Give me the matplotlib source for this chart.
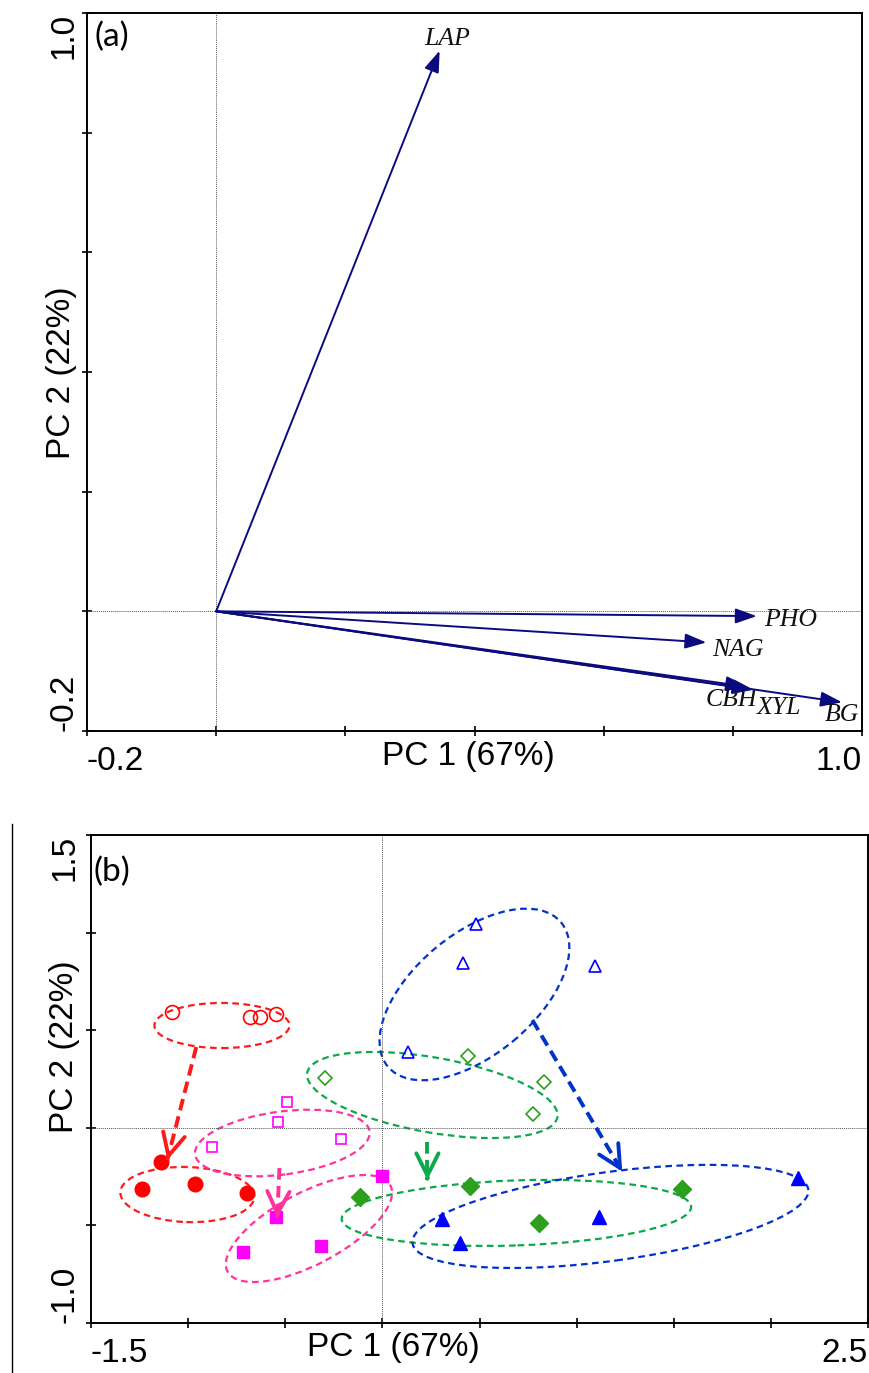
import matplotlib
matplotlib.use("Agg")
import matplotlib.pyplot as plt
from matplotlib.patches import Ellipse
from matplotlib.lines import Line2D

plt.rcParams['font.family'] = ['Liberation Sans', 'DejaVu Sans']
plt.rcParams['axes.unicode_minus'] = False

# ---- panel (a): loading vectors ----
enzymes = ["LAP", "PHO", "NAG", "CBH", "XYL", "BG"]
load_pc1 = [0.346, 0.837, 0.759, 0.822, 0.832, 0.969]
load_pc2 = [0.937, -0.008, -0.052, -0.126, -0.131, -0.152]
label_x = [0.358, 0.889, 0.808, 0.797, 0.872, 0.969]
label_y = [0.957, -0.015, -0.065, -0.149, -0.161, -0.174]

# ---- panel (b): sample scores ----
red_open_x = [-1.081, -0.680, -0.628, -0.546]
red_open_y = [0.593, 0.568, 0.568, 0.583]
red_fill_x = [-1.138, -1.236, -0.963, -0.695]
red_fill_y = [-0.175, -0.313, -0.288, -0.334]
mag_open_x = [-0.489, -0.535, -0.875, -0.211]
mag_open_y = [0.132, 0.030, -0.098, -0.057]
mag_fill_x = [0.0, -0.546, -0.716, -0.314]
mag_fill_y = [-0.247, -0.457, -0.636, -0.605]
grn_open_x = [-0.293, 0.443, 0.834, 0.777]
grn_open_y = [0.255, 0.368, 0.235, 0.071]
grn_fill_x = [-0.113, 0.451, 1.541, 0.807]
grn_fill_y = [-0.353, -0.298, -0.315, -0.489]
blu_open_x = [0.484, 0.414, 1.095, 0.134]
blu_open_y = [1.044, 0.844, 0.829, 0.388]
blu_fill_x = [0.309, 0.402, 1.116, 2.140]
blu_fill_y = [-0.467, -0.590, -0.457, -0.257]

# group ellipses: centre x, centre y, width, height, angle
ell_cx = [-0.826, -1.004, -0.515, -0.378, 0.257, 0.690, 0.474, 1.174]
ell_cy = [0.524, -0.342, -0.078, -0.516, 0.168, -0.436, 0.683, -0.454]
ell_w = [0.695, 0.690, 0.906, 0.947, 1.308, 1.800, 1.158, 2.056]
ell_h = [0.231, 0.282, 0.323, 0.369, 0.384, 0.333, 0.622, 0.455]
ell_ang = [0, -2, 7.5, 27.7, -10, 2, 39.5, 7.7]
ell_col = ['#FF1A1A', '#FF1A1A', '#FF3399', '#FF3399',
           '#0DA84A', '#0DA84A', '#0033CC', '#0033CC']

# shift arrows (start -> end)
arr_x0 = [-0.958, -0.530, 0.232, 0.772]
arr_y0 = [0.414, -0.206, -0.073, 0.552]
arr_x1 = [-1.107, -0.541, 0.232, 1.235]
arr_y1 = [-0.165, -0.462, -0.267, -0.225]
arr_col = ['#FF1A1A', '#FF3399', '#0DA84A', '#0033CC']

navy = '#0B0B80'

fig = plt.figure(figsize=(8.7, 13.73), dpi=100)
ax1 = fig.add_axes([87/870, 1-731/1373, 775/870, 718/1373])
ax2 = fig.add_axes([91/870, 1-1323/1373, 777/870, 488/1373])

# panel a
ax1.set_xlim(-0.2, 1.0)
ax1.set_ylim(-0.2, 1.0)
ax1.axhline(0, color='#555555', lw=0.7, ls=(0, (1, 1)))
ax1.axvline(0, color='#555555', lw=0.7, ls=(0, (1, 1)))
for i in range(len(enzymes)):
    ax1.annotate('', xy=(load_pc1[i], load_pc2[i]), xytext=(0, 0),
                 arrowprops=dict(arrowstyle='-|>,head_length=0.65,head_width=0.23',
                                 color=navy, lw=1.4, shrinkA=0, shrinkB=0,
                                 mutation_scale=20))
    ax1.text(label_x[i], label_y[i], enzymes[i], fontsize=18.5, style='italic',
             family='Liberation Serif', ha='center', va='center', color='#111111')

ax1.set_xticks([-0.2, 0, 0.2, 0.4, 0.6, 0.8, 1.0])
ax1.set_xticklabels(['-0.2', '', '', '', '', '', '1.0'])
ax1.set_yticks([-0.2, 0, 0.2, 0.4, 0.6, 0.8, 1.0])
ax1.set_yticklabels(['-0.2', '', '', '', '', '', '1.0'], rotation=90, va='center')
ax1.text(0.4916, -0.0362, 'PC 1 (67%)', transform=ax1.transAxes, fontsize=24,
         ha='center', va='center')
ax1.text(-0.0323, 0.4986, 'PC 2 (22%)', transform=ax1.transAxes, fontsize=24,
         ha='center', va='center', rotation=90)
ax1.text(0.0103, 0.9666, '(a)', transform=ax1.transAxes, fontsize=24,
         ha='left', va='center', family=['Lato', 'DejaVu Sans'])

# panel b
ax2.set_xlim(-1.5, 2.5)
ax2.set_ylim(-1.0, 1.5)
ax2.axhline(0, color='#555555', lw=0.7, ls=(0, (1, 1)))
ax2.axvline(0, color='#555555', lw=0.7, ls=(0, (1, 1)))

for i in range(len(ell_cx)):
    e = Ellipse((ell_cx[i], ell_cy[i]), ell_w[i], ell_h[i], angle=ell_ang[i],
                fill=False, edgecolor=ell_col[i], lw=1.6, ls=(0, (3, 2)))
    ax2.add_patch(e)

ax2.plot(red_open_x, red_open_y, 'o', ms=10, mfc='none', mec='#FF0000', mew=1.2)
ax2.plot(red_fill_x, red_fill_y, 'o', ms=10.5, color='#FF0000')
ax2.plot(mag_open_x, mag_open_y, 's', ms=7.5, mfc='none', mec='#FF00FF', mew=1.2)
ax2.plot(mag_fill_x, mag_fill_y, 's', ms=8.5, color='#FF00FF')
ax2.plot(grn_open_x, grn_open_y, 'D', ms=7.5, mfc='none', mec='#2CA01C', mew=1.2)
ax2.plot(grn_fill_x, grn_fill_y, 'D', ms=9, color='#2CA01C')
ax2.plot(blu_open_x, blu_open_y, '^', ms=8.5, mfc='none', mec='#0000FF', mew=1.2)
ax2.plot(blu_fill_x, blu_fill_y, '^', ms=9.5, color='#0000FF')

for i in range(len(arr_x0)):
    ax2.plot([arr_x0[i], arr_x1[i]], [arr_y0[i], arr_y1[i]], color=arr_col[i],
             lw=2.8, ls=(0, (3, 1.6)))
    dx = arr_x1[i] - arr_x0[i]
    dy = arr_y1[i] - arr_y0[i]
    ax2.annotate('', xy=(arr_x1[i], arr_y1[i]),
                 xytext=(arr_x1[i] - 0.05*dx, arr_y1[i] - 0.05*dy),
                 arrowprops=dict(arrowstyle='->,head_length=0.8,head_width=0.4',
                                 color=arr_col[i], lw=2.8, shrinkA=0, shrinkB=0,
                                 mutation_scale=20))

ax2.set_xticks([-1.5, -1.0, -0.5, 0, 0.5, 1.0, 1.5, 2.0, 2.5])
ax2.set_xticklabels(['-1.5', '', '', '', '', '', '', '', '2.5'])
ax2.set_yticks([-1.0, -0.5, 0, 0.5, 1.0, 1.5])
ax2.set_yticklabels(['-1.0', '', '', '', '', '1.5'], rotation=90, va='center')
ax2.text(0.389, -0.0512, 'PC 1 (67%)', transform=ax2.transAxes, fontsize=24,
         ha='center', va='center')
ax2.text(-0.0335, 0.5655, 'PC 2 (22%)', transform=ax2.transAxes, fontsize=24,
         ha='center', va='center', rotation=90)
ax2.text(0.0026, 0.924, '(b)', transform=ax2.transAxes, fontsize=24,
         ha='left', va='center', family=['Lato', 'DejaVu Sans'])

for ax, ypad in [(ax1, 2.5), (ax2, 4.5)]:
    for s in ax.spines.values():
        s.set_linewidth(1.4)
    ax.tick_params(direction='inout', length=6.5, width=1.2, labelsize=24)
    ax.tick_params(axis='x', pad=7.5)
    ax.tick_params(axis='y', pad=ypad)
    xl = ax.get_xticklabels()
    xl[0].set_ha('left')
    xl[-1].set_ha('right')
    yl = ax.get_yticklabels()
    yl[0].set_va('bottom')
    yl[-1].set_va('top')

# thin frame line at the left of panel b
fig.add_artist(Line2D([12/870, 12/870], [0, 1-824/1373], transform=fig.transFigure,
                      color='black', lw=1.0))

fig.savefig('out.png', dpi=100)
